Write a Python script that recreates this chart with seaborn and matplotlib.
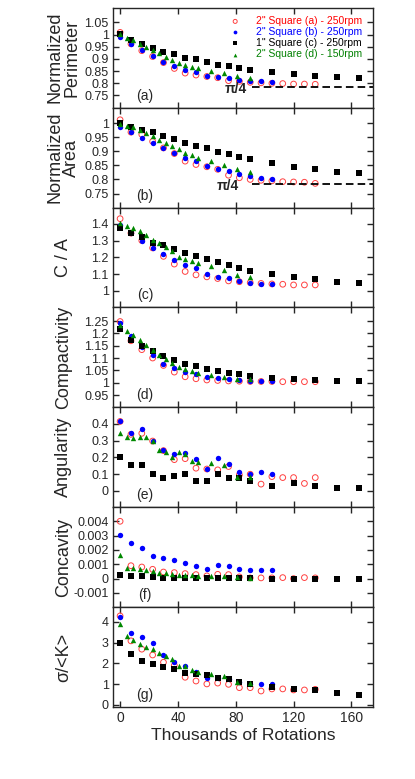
import numpy as np
import pandas as pd
import matplotlib
matplotlib.use("Agg")
import matplotlib.pyplot as plt
from matplotlib.ticker import FuncFormatter, MultipleLocator
import seaborn as sns

sns.set_style("ticks")
plt.rcParams['font.family'] = ['Liberation Sans', 'DejaVu Sans']
plt.rcParams['axes.unicode_minus'] = False

# x positions (thousands of rotations)
x_red = [0, 7.5, 15, 22.5, 30, 37.5, 45, 52.5, 60, 67.5, 75, 82.5, 90, 97.5, 105, 112.5, 120, 127.5, 135]
x_blue = [0, 7.5, 15, 22.5, 30, 37.5, 45, 52.5, 60, 67.5, 75, 82.5, 90, 97.5, 105]
x_black = [0, 7.5, 15, 22.5, 30, 37.5, 45, 52.5, 60, 67.5, 75, 82.5, 90, 105, 120, 135, 150, 165]
x_green = [0, 4.5, 9, 13.5, 18, 22.5, 27, 31.5, 36, 40.5, 45, 49.5, 54, 63, 72, 81, 90]

series_labels = ['2" Square (a) - 250rpm', '2" Square (b) - 250rpm',
                 '1" Square (c) - 250rpm', '2" Square (d) - 150rpm']

# (a) normalized perimeter
perim_red = [1.009, 0.962, 0.934, 0.91, 0.885, 0.861, 0.842, 0.834, 0.828, 0.823, 0.811, 0.808, 0.804, 0.802, 0.800, 0.799, 0.797, 0.797, 0.796]
perim_blue = [0.989, 0.962, 0.935, 0.912, 0.889, 0.872, 0.855, 0.847, 0.831, 0.826, 0.822, 0.815, 0.811, 0.809, 0.807]
perim_black = [1.003, 0.976, 0.962, 0.946, 0.930, 0.919, 0.905, 0.899, 0.888, 0.877, 0.872, 0.862, 0.855, 0.845, 0.838, 0.831, 0.827, 0.822]
perim_green = [1.003, 0.984, 0.977, 0.962, 0.949, 0.936, 0.923, 0.908, 0.895, 0.885, 0.874, 0.868, 0.861, 0.851, 0.842, 0.828, 0.822]

# (b) normalized area
area_red = [1.012, 0.968, 0.96, 0.935, 0.912, 0.892, 0.865, 0.853, 0.845, 0.836, 0.815, 0.806, 0.800, 0.797, 0.795, 0.792, 0.791, 0.790, 0.786]
area_blue = [0.985, 0.968, 0.947, 0.930, 0.910, 0.894, 0.877, 0.865, 0.847, 0.838, 0.830, 0.818, 0.812, 0.806, 0.803]
area_black = [1.0, 0.986, 0.977, 0.967, 0.955, 0.944, 0.930, 0.920, 0.910, 0.897, 0.891, 0.879, 0.871, 0.857, 0.845, 0.836, 0.827, 0.822]
area_green = [0.996, 0.991, 0.986, 0.977, 0.965, 0.953, 0.941, 0.930, 0.918, 0.908, 0.894, 0.888, 0.877, 0.867, 0.853, 0.836, 0.826]

# (c) C / A
ca_red = [1.43, 1.344, 1.30, 1.256, 1.206, 1.16, 1.116, 1.096, 1.084, 1.074, 1.06, 1.055, 1.05, 1.045, 1.042, 1.04, 1.036, 1.036, 1.036]
ca_blue = [1.395, 1.346, 1.30, 1.256, 1.22, 1.186, 1.156, 1.134, 1.10, 1.086, 1.076, 1.06, 1.05, 1.044, 1.04]
ca_black = [1.374, 1.344, 1.32, 1.284, 1.274, 1.25, 1.226, 1.206, 1.19, 1.17, 1.156, 1.136, 1.12, 1.10, 1.084, 1.074, 1.056, 1.05]
ca_green = [1.406, 1.384, 1.374, 1.356, 1.334, 1.306, 1.284, 1.26, 1.24, 1.204, 1.19, 1.176, 1.164, 1.146, 1.124, 1.094, 1.086]

# (d) compactivity
comp_red = [1.248, 1.17, 1.134, 1.10, 1.07, 1.043, 1.024, 1.016, 1.011, 1.009, 1.007, 1.006, 1.005, 1.005, 1.005, 1.004, 1.004, 1.004, 1.004]
comp_blue = [1.241, 1.19, 1.143, 1.114, 1.076, 1.06, 1.043, 1.034, 1.023, 1.017, 1.016, 1.011, 1.007, 1.007, 1.007]
comp_black = [1.218, 1.174, 1.147, 1.127, 1.107, 1.094, 1.076, 1.067, 1.056, 1.047, 1.040, 1.034, 1.027, 1.02, 1.013, 1.011, 1.008, 1.005]
comp_green = [1.235, 1.21, 1.194, 1.174, 1.154, 1.131, 1.114, 1.097, 1.08, 1.063, 1.054, 1.047, 1.038, 1.031, 1.024, 1.016, 1.013]

# (e) angularity
ang_red = [0.414, 0.337, 0.343, 0.297, 0.24, 0.186, 0.192, 0.135, 0.13, 0.125, 0.145, 0.095, 0.099, 0.04, 0.085, 0.079, 0.079, 0.044, 0.079]
ang_blue = [0.414, 0.343, 0.368, 0.297, 0.246, 0.22, 0.226, 0.192, 0.131, 0.196, 0.16, 0.115, 0.101, 0.115, 0.099]
ang_black = [0.20, 0.156, 0.156, 0.099, 0.075, 0.089, 0.101, 0.059, 0.059, 0.101, 0.075, 0.075, 0.059, 0.03, 0.044, 0.03, 0.014, 0.014]
ang_green = [0.343, 0.321, 0.313, 0.323, 0.323, 0.297, 0.246, 0.232, 0.20, 0.232, 0.22, 0.176, 0.172, 0.166, 0.152, 0.085, 0.081]

# (f) concavity
conc_red = [0.0040, 0.0009, 0.00081, 0.00065, 0.00046, 0.00042, 0.00035, 0.00028, 0.00019, 0.0003, 0.00028, 0.00012, 0.00005, 0.00005, 0.00005, 0.00007, 0.0, 0.00007, 0.00005]
conc_blue = [0.00307, 0.00251, 0.00216, 0.00158, 0.00144, 0.00128, 0.0011, 0.00088, 0.0007, 0.00098, 0.00086, 0.0007, 0.00058, 0.00063, 0.00058]
conc_black = [0.00028, 0.00019, 0.00019, 0.00012, 0.00005, 0.00005, 0.00004, 0.00004, 0.00003, 0.00003, 0.00003, 0.00003, 0.00003, 0.0, 0.0, 0.0, 0.0, 0.0]
conc_green = [0.00163, 0.00077, 0.00077, 0.00065, 0.00058, 0.00053, 0.00042, 0.0004, 0.00035, 0.00028, 0.00028, 0.00023, 0.00019, 0.00019, 0.00016, 0.00012, 0.00005]

# (g) sigma / <K>
sig_red = [4.28, 3.08, 2.68, 2.40, 2.05, 1.9, 1.33, 1.15, 1.01, 1.05, 0.99, 0.83, 0.83, 0.67, 0.77, 0.77, 0.72, 0.72, 0.75]
sig_blue = [4.22, 3.48, 3.28, 2.97, 2.40, 2.08, 1.89, 1.60, 1.31, 1.28, 1.25, 1.12, 0.99, 0.99, 1.01]
sig_black = [3.0, 2.45, 2.12, 1.97, 1.84, 1.72, 1.55, 1.5, 1.44, 1.31, 1.25, 1.12, 0.99, 0.88, 0.75, 0.72, 0.56, 0.48]
sig_green = [3.89, 3.33, 3.13, 2.93, 2.80, 2.68, 2.51, 2.37, 2.20, 1.88, 1.88, 1.68, 1.60, 1.48, 1.41, 1.09, 1.05]

panels = [
    ("Normalized\nPerimeter", "(a)", [perim_red, perim_blue, perim_black, perim_green], (0.70, 1.11), [0.75, 0.8, 0.85, 0.9, 0.95, 1.0, 1.05]),
    ("Normalized\nArea", "(b)", [area_red, area_blue, area_black, area_green], (0.70, 1.055), [0.75, 0.8, 0.85, 0.9, 0.95, 1.0]),
    ("C / A", "(c)", [ca_red, ca_blue, ca_black, ca_green], (0.902, 1.496), [1.0, 1.1, 1.2, 1.3, 1.4]),
    ("Compactivity", "(d)", [comp_red, comp_blue, comp_black, comp_green], (0.90, 1.305), [0.95, 1.0, 1.05, 1.1, 1.15, 1.2, 1.25]),
    ("Angularity", "(e)", [ang_red, ang_blue, ang_black, ang_green], (-0.098, 0.498), [0, 0.1, 0.2, 0.3, 0.4]),
    ("Concavity", "(f)", [conc_red, conc_blue, conc_black, conc_green], (-0.00199, 0.00498), [-0.001, 0, 0.001, 0.002, 0.003, 0.004]),
    ("σ/<K>", "(g)", [sig_red, sig_blue, sig_black, sig_green], (-0.1, 4.7), [0, 1, 2, 3, 4]),
]

xs = [x_red, x_blue, x_black, x_green]
colors = ["#ff4040", "#0000ff", "black", "#008800"]
text_colors = ["red", "blue", "black", "green"]
markers = ["o", "o", "s", "^"]
pi4_start = 91
pi4_text_x = {"(a)": 88, "(b)": 82.5}

fig, axes = plt.subplots(7, 1, figsize=(4.15, 7.79), dpi=100, sharex=True)
fig.subplots_adjust(left=0.272, right=0.899, top=0.990, bottom=0.0924, hspace=0)

for ax, (ylab, tag, ys, ylim, yticks) in zip(axes, panels):
    for i in range(4):
        df = pd.DataFrame({"x": xs[i], "y": ys[i]})
        lab = series_labels[i] if tag == "(a)" else None
        if i == 0:
            sns.scatterplot(data=df, x="x", y="y", ax=ax, marker="o", s=17,
                            facecolors="none", edgecolor=colors[i], linewidth=0.7, label=lab)
        else:
            sns.scatterplot(data=df, x="x", y="y", ax=ax, marker=markers[i], s=15,
                            color=colors[i], edgecolor=colors[i], linewidth=0, label=lab)
    if tag in pi4_text_x:
        ax.hlines(np.pi / 4, pi4_start, 175, colors="black", linestyles=(0, (4.2, 2.3)), linewidth=1.3)
        ax.text(pi4_text_x[tag], np.pi / 4 - 0.008, "π/4", ha="right", va="center",
                fontsize=10, fontweight="bold")
    ax.set_ylim(*ylim)
    ax.set_yticks(yticks)
    ax.yaxis.set_major_formatter(FuncFormatter(lambda v, p: f"{v:g}"))
    ax.set_xlim(-5, 175)
    ax.xaxis.set_major_locator(MultipleLocator(40))
    ax.tick_params(direction="in", top=True, right=True, length=4, width=1, labelsize=9, pad=3)
    for sp in ax.spines.values():
        sp.set_linewidth(1)
    ax.set_ylabel(ylab, fontsize=13, va="center", linespacing=0.95)
    ax.yaxis.set_label_coords(-0.19, 0.5)
    ax.set_xlabel("")
    ax.text(0.123, 0.12, tag, transform=ax.transAxes, ha="center", va="center", fontsize=10)

axes[-1].tick_params(axis="x", labelsize=10)

leg = axes[0].legend(loc="upper right", bbox_to_anchor=(0.99, 1.0), frameon=False, fontsize=7.5,
                     handletextpad=1.0, labelspacing=0.1, borderaxespad=0.4,
                     labelcolor=text_colors, markerscale=0.7)

axes[-1].set_xlabel("Thousands of Rotations", fontsize=12.5, labelpad=2)

fig.savefig("out.png", dpi=100)
